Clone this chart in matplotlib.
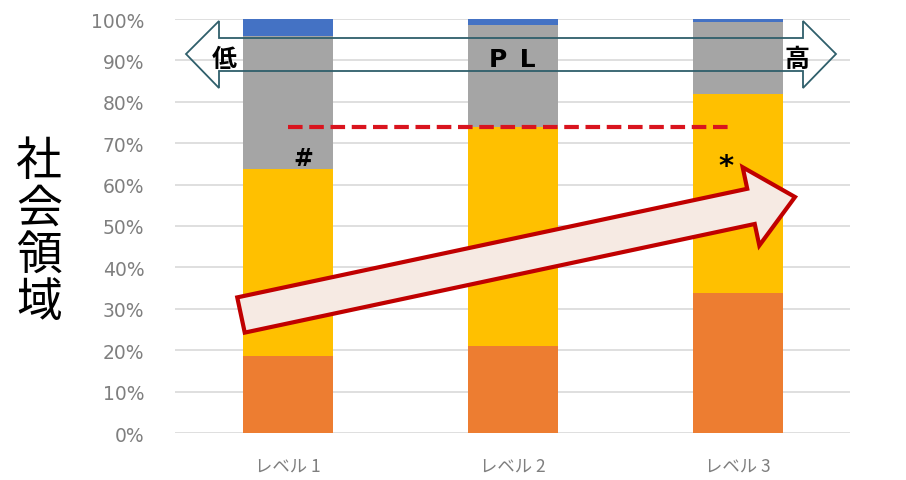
import matplotlib
matplotlib.use('Agg')
import matplotlib.pyplot as plt
from matplotlib.patches import Polygon, FancyArrow
from matplotlib.transforms import Affine2D
import numpy as np

plt.rcParams['font.family'] = ['Noto Sans CJK JP', 'DejaVu Sans']

# stacked shares (%) per level, bottom to top
levels = ['レベル 1', 'レベル 2', 'レベル 3']
seg_orange = [18.5, 21.0, 33.8]
seg_yellow = [45.3, 53.0, 48.2]
seg_gray = [32.2, 24.5, 17.2]
seg_blue = [4.0, 1.5, 0.8]
ref_line = 73.8  # dashed reference level

colors = ['#ED7D31', '#FFC000', '#A5A5A5', '#4472C4']
segments = [seg_orange, seg_yellow, seg_gray, seg_blue]

W, H = 906, 481
fig = plt.figure(figsize=(W / 100, H / 100), dpi=100)
ax = fig.add_axes([175 / W, 1 - 434 / H, 675 / W, 414 / H])

x = np.arange(len(levels))
bottom = np.zeros(len(levels))
for vals, c in zip(segments, colors):
    ax.bar(x, vals, width=0.4, bottom=bottom, color=c, zorder=2)
    bottom += np.array(vals)

ax.set_xlim(-0.5, 2.5)
ax.set_ylim(0, 100)
ax.set_yticks(np.arange(0, 101, 10))
ax.set_yticklabels([f'{v}%' for v in range(0, 101, 10)], family='DejaVu Sans')
ax.set_xticks(x)
ax.set_xticklabels(levels)
ax.tick_params(axis='y', length=0, pad=22, labelsize=13.5, labelcolor='#7F7F7F')
ax.tick_params(axis='x', length=0, pad=17, labelsize=12.5, labelcolor='#7F7F7F')
ax.grid(axis='y', color='#D9D9D9', linewidth=1.2, zorder=0)
ax.set_axisbelow(True)
for s in ax.spines.values():
    s.set_visible(False)

# dashed reference line
ax.plot([x[0], x[-1] - 0.02], [ref_line, ref_line], color='#D9141E',
        linewidth=3, dashes=(3.5, 1.6), zorder=4)

# marks
ax.text(0.07, 66.5, '#', fontsize=17, fontweight='bold', ha='center', va='center',
        family='DejaVu Sans', zorder=5)
ax.text(1.95, 64.5, '*', fontsize=21, fontweight='bold', ha='center', va='center',
        family='DejaVu Sans', zorder=5)

# pixel transform (y down)
px = Affine2D().scale(1, -1).translate(0, H)

# double-headed arrow at the top
pts = [(186, 55), (219, 22), (219, 39), (803, 39), (803, 22), (836, 55),
       (803, 89), (803, 72), (219, 72), (219, 89)]
fig.add_artist(Polygon(pts, closed=True, fill=False, edgecolor='#2F5F6B',
                       linewidth=1.3, transform=px, zorder=6))
fig.text(224 / W, 1 - 60 / H, '低', fontsize=18, fontweight='bold', ha='center', va='center')
fig.text(512 / W, 1 - 60 / H, 'P\u2002L', fontsize=18, fontweight='bold', ha='center', va='center',
         family='DejaVu Sans')
fig.text(797 / W, 1 - 60 / H, '高', fontsize=18, fontweight='bold', ha='center', va='center')

# big block arrow
arr = FancyArrow(241, 316, 554, -118, width=36, head_width=80, head_length=45,
                 length_includes_head=True, facecolor='#F6EAE3', edgecolor='#C00000',
                 linewidth=3, transform=px, zorder=7)
fig.add_artist(arr)

# vertical y label
for i, ch in enumerate('社会領域'):
    fig.text(39 / W, 1 - (162 + 47 * i) / H, ch, fontsize=33, ha='center', va='center')

fig.savefig('out.png', dpi=100)
